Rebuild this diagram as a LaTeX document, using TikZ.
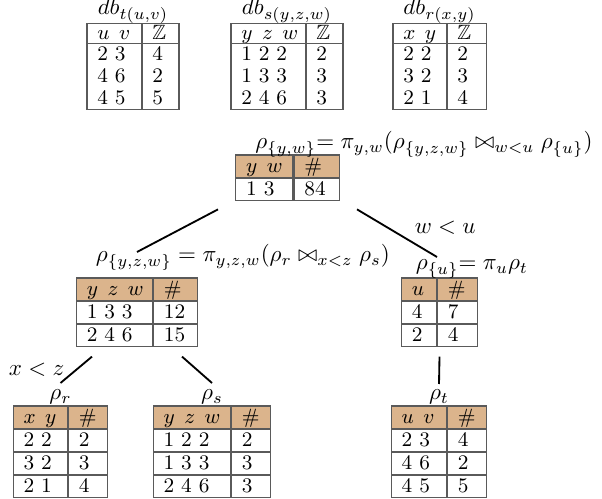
\documentclass[tikz,border=0pt]{standalone}
\usepackage{amsmath,amssymb}
\usepackage{xcolor}
\usepackage{tikz}
\usetikzlibrary{matrix,positioning,calc}

\definecolor{headfill}{RGB}{219,180,140}
\definecolor{tblline}{RGB}{90,90,90}
\newcommand{\pxu}{0.4348pt}

\begin{document}
\begin{tikzpicture}[
    x=\pxu, y=-\pxu,
    cell/.style={outer sep=0pt, inner xsep=4.5pt, inner ysep=0pt, minimum height=9.6pt,
        font=\small, text height=6.5pt, text depth=1.3pt, align=left},
    cols/.style 2 args={column 1/.style={nodes={text width=#1}}, column 2/.style={nodes={text width=#2}}},
    tbl/.style={matrix of nodes, inner sep=0pt, column sep=0pt, row sep=0pt, anchor=north,
        nodes={cell, draw=tblline, line width=0.5pt},
        row 1/.style={nodes={fill=headfill}}},
    dbtbl/.style={matrix of nodes, inner sep=0pt, column sep=0pt, row sep=0pt, anchor=north,
        draw=tblline, line width=0.5pt, nodes={cell},
        row 1/.style={nodes={minimum height=8.7pt}}},
    tblrule/.style={draw=tblline, line width=0.5pt},
    lbl/.style={inner sep=0pt},
    cond/.style={inner sep=0pt},
    edge/.style={thick}
]
    \useasboundingbox (0,0) rectangle (602,499);

    % input relations
    \matrix (dbT) [dbtbl, cols={14.9pt}{7.1pt}] at (133,23) {
        $u\;\,v$ & $\mathbb{Z}$ \\
        2 3 & 4 \\
        4 6 & 2 \\
        4 5 & 5 \\
    };
    \matrix (dbS) [dbtbl, cols={23.6pt}{7.1pt}] at (287,23) {
        $y\;\,z\;\,w$ & $\mathbb{Z}$ \\
        1 2 2 & 2 \\
        1 3 3 & 3 \\
        2 4 6 & 3 \\
    };
    \matrix (dbR) [dbtbl, cols={14.5pt}{8pt}] at (439.5,23) {
        $x\;\,y$ & $\mathbb{Z}$ \\
        2 2 & 2 \\
        3 2 & 3 \\
        2 1 & 4 \\
    };
    \foreach \t in {dbT,dbS,dbR} {
        \draw[tblrule] (\t-1-1.south west) -- (\t-1-2.south east);
        \draw[tblrule] (\t-1-1.north east) -- (\t-4-1.south east);
    }
    \node[lbl, anchor=base] (dbTL) at ($(dbT.north)+(0,-8)$) {$db_{t(u,v)}$};
    \node[lbl, anchor=base] (dbSL) at ($(dbS.north)+(0,-8)$) {$db_{s(y,z,w)}$};
    \node[lbl, anchor=base] (dbRL) at ($(dbR.north)+(0,-8)$) {$db_{r(x,y)}$};

    % join tree
    \matrix (rootT) [tbl, cols={15.8pt}{10.6pt}] at (287.5,154) {
        $y\;\,w$ & \# \\
        1 3 & 84 \\
    };
    \matrix (midT) [tbl, cols={24pt}{10.1pt}] at (137,277) {
        $y\;\,z\;\,w$ & \# \\
        1 3 3 & 12 \\
        2 4 6 & 15 \\
    };
    \matrix (rhoUT) [tbl, cols={6.2pt}{8.4pt}] at (439.5,277) {
        $u$ & \# \\
        4 & 7 \\
        2 & 4 \\
    };
    \matrix (rhoRT) [tbl, cols={14.5pt}{8pt}] at (60.5,405) {
        $x\;\,y$ & \# \\
        2 2 & 2 \\
        3 2 & 3 \\
        2 1 & 4 \\
    };
    \matrix (rhoST) [tbl, cols={24.5pt}{8pt}] at (212,405) {
        $y\;\,z\;\,w$ & \# \\
        1 2 2 & 2 \\
        1 3 3 & 3 \\
        2 4 6 & 3 \\
    };
    \matrix (rhoTT) [tbl, cols={14.9pt}{8pt}] at (439,405) {
        $u\;\,v$ & \# \\
        2 3 & 4 \\
        4 6 & 2 \\
        4 5 & 5 \\
    };

    \node[lbl, anchor=base west] (rootL) at ($(rootT.north west)+(20,-5)$)
        {$\rho_{\{y,w\}}{=}\;\pi_{y,w}(\rho_{\{y,z,w\}} \bowtie_{w<u} \rho_{\{u\}})$};
    \node[lbl, anchor=base west] (midL) at ($(midT.north west)+(20,-15)$)
        {$\rho_{\{y,z,w\}} = \pi_{y,z,w}(\rho_r \bowtie_{x<z} \rho_s)$};
    \node[lbl, anchor=base west] (rhoUL) at ($(rhoUT.north west)+(15,-7)$)
        {$\rho_{\{u\}}{=}\;\pi_u\rho_t$};
    \node[lbl, anchor=base] (rhoRL) at ($(rhoRT.north)+(0,-5)$) {$\rho_r$};
    \node[lbl, anchor=base] (rhoSL) at ($(rhoST.north)+(0,-5)$) {$\rho_s$};
    \node[lbl, anchor=base] (rhoTL) at ($(rhoTT.north)+(0,-5)$) {$\rho_t$};

    \draw[edge] ($(rootT.south)+(-69.5,8)$) -- ($(midT.north)+(0,-25)$);
    \draw[edge] ($(rootT.south)+(69.5,8)$) -- node[cond, pos=0.38, right=11.5pt] {$w < u$} ($(rhoUT.north)+(-2.5,-20)$);
    \draw[edge] ($(midT.south)+(-45,9)$) -- node[cond, pos=0.48, left=5pt] {$x < z$} ($(rhoRT.north)+(0,-22)$);
    \draw[edge] ($(midT.south)+(45,9)$) -- ($(rhoST.north)+(0,-22)$);
    \draw[edge] ($(rhoUT.south)+(0,9)$) -- ($(rhoTT.north)+(0,-21)$);
\end{tikzpicture}
\end{document}
